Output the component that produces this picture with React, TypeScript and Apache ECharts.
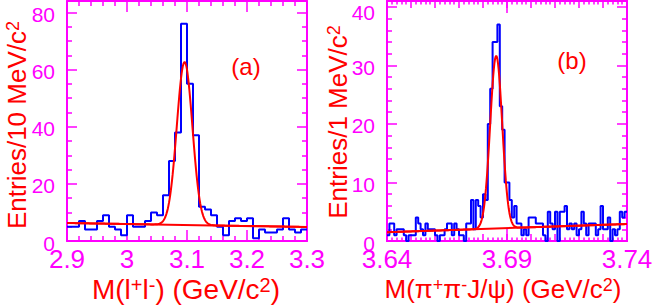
import React, { useEffect, useRef } from 'react';
import * as echarts from 'echarts';

// ---- data ----
const leftLow = 2.9;
const leftBinWidth = 0.01;
const leftCounts = [
  5, 5, 7, 4, 4, 7, 9, 5, 4, 2,
  9, 5, 5, 7, 10, 9, 16, 28, 38, 76,
  55, 37, 12, 11, 9, 5, 2, 7, 8, 7,
  8, 1, 4, 3, 3, 4, 8, 4, 3, 4,
];
const rightLow = 3.64;
const rightBinWidth = 0.001;
const rightCounts = [
  1, 3, 3, 1, 2, 2, 2, 1, 0, 1,
  1, 1, 4, 3, 2, 1, 3, 2, 2, 2,
  1, 0, 1, 1, 2, 3, 3, 1, 3, 2,
  1, 1, 0, 3, 3, 7, 2, 7, 6, 4,
  8, 7, 20, 26, 34, 34, 37, 23, 19, 10,
  10, 7, 4, 6, 3, 3, 1, 2, 1, 4,
  4, 4, 3, 3, 3, 1, 0, 5, 3, 2,
  5, 0, 5, 5, 6, 2, 3, 2, 3, 1,
  2, 5, 3, 1, 3, 3, 3, 1, 2, 6,
  2, 2, 4, 0, 2, 1, 2, 5, 4, 5,
];
// fit parameters (Gaussian + linear background)
const leftFitMean = 3.096;
const leftFitSigma = 0.013;
const leftFitAmp = 57;
const leftBgStart = 6.3;
const leftBgEnd = 4.9;
const rightFitMean = 3.6855;
const rightFitSigma = 0.0025;
const rightFitAmp = 29.5;
const rightBgStart = 1.5;
const rightBgEnd = 2.9;

const leftXRange = [2.9, 3.3];
const rightXRange = [3.64, 3.74];
const leftYMax = 84;
const rightYMax = 41;

const FONT = '"Liberation Sans", Arial, Helvetica, sans-serif';
const MAG = '#ff00ff';
const RED = '#ff0000';
const BLUE = '#0000ff';

function histPoints(low: number, w: number, counts: number[]) {
  const pts: number[][] = counts.map((c, k) => [+(low + k * w).toFixed(5), c]);
  pts.push([+(low + counts.length * w).toFixed(5), counts[counts.length - 1]]);
  return pts;
}
function bgLine(range: number[], b0: number, b1: number) {
  return [[range[0], b0], [range[1], b1]];
}
function fitCurve(range: number[], mean: number, sigma: number, amp: number, b0: number, b1: number) {
  const pts: number[][] = [];
  const n = 400;
  for (let i = 0; i <= n; i++) {
    const x = range[0] + ((range[1] - range[0]) * i) / n;
    const bg = b0 + ((b1 - b0) * (x - range[0])) / (range[1] - range[0]);
    const g = amp * Math.exp(-0.5 * ((x - mean) / sigma) ** 2);
    pts.push([x, bg + g]);
  }
  return pts;
}

function xAxis(gridIndex: number, position: string, range: number[], interval: number, o: any) {
  return {
    type: 'value',
    gridIndex,
    position,
    min: range[0],
    max: range[1],
    interval,
    axisLine: { show: true, onZero: false, lineStyle: { color: MAG, width: 2 } },
    axisTick: { show: true, inside: true, length: o.tick, lineStyle: { color: MAG, width: 1.5 } },
    minorTick: o.minor
      ? { show: true, splitNumber: o.minor, length: o.minorLen, lineStyle: { color: MAG, width: 1.5 } }
      : { show: false },
    axisLabel: o.labels
      ? {
          show: true,
          color: MAG,
          fontSize: 26,
          fontFamily: FONT,
          margin: 5,
          showMaxLabel: true,
          hideOverlap: false,
          formatter: (v: number) => String(+v.toFixed(2)),
        }
      : { show: false },
    splitLine: { show: false },
    minorSplitLine: { show: false },
  };
}
function yAxis(gridIndex: number, position: string, max: number, interval: number, minor: number, labels: boolean, topTick: number) {
  return {
    type: 'value',
    gridIndex,
    position,
    min: 0,
    max,
    interval,
    axisLine: { show: true, onZero: false, lineStyle: { color: MAG, width: 2 } },
    axisTick: { show: true, inside: true, length: 10, lineStyle: { color: MAG, width: 1.5 } },
    minorTick: { show: true, splitNumber: minor, length: 5, lineStyle: { color: MAG, width: 1.5 } },
    axisLabel: labels
      ? {
          show: true,
          color: MAG,
          fontSize: 21,
          fontFamily: FONT,
          margin: 12,
          showMaxLabel: false,
          hideOverlap: false,
          formatter: (v: number) => (v === topTick ? `{t|${v}}` : `{n|${v}}`),
          rich: {
            n: { color: MAG, fontSize: 21, fontFamily: FONT, padding: [4, 0, 0, 0] },
            t: { color: MAG, fontSize: 21, fontFamily: FONT, padding: topTick === 40 ? [12, 0, 0, 0] : [4, 0, 0, 0] },
          },
        }
      : { show: false },
    splitLine: { show: false },
    minorSplitLine: { show: false },
  };
}

function richText(text: string, size: number) {
  return {
    text,
    fill: RED,
    font: `${size}px ${FONT}`,
    rich: {
      a: { fill: RED, fontSize: size, fontFamily: FONT },
      s: { fill: RED, fontSize: Math.round(size * 0.7), fontFamily: FONT, verticalAlign: 'top' },
    },
    align: 'center',
    verticalAlign: 'middle',
    textAlign: 'center',
    textVerticalAlign: 'middle',
  };
}

const gridBase = { top: 1, width: 240, height: 240, containLabel: false, outerBoundsMode: 'none' };

export default function App() {
  const ref = useRef<HTMLDivElement>(null);
  useEffect(() => {
    document.body.style.margin = '0';
    const chart = echarts.init(ref.current!, null, { renderer: 'svg' });
    const option: any = {
      animation: false,
      backgroundColor: '#ffffff',
      grid: [
        { ...gridBase, left: 67 },
        { ...gridBase, left: 387 },
        { ...gridBase, left: 387 },
      ],
      xAxis: [
        xAxis(0, 'bottom', leftXRange, 0.1, { tick: 11, minor: 5, minorLen: 5, labels: true }),
        xAxis(0, 'top', leftXRange, 0.1, { tick: 11, minor: 5, minorLen: 5, labels: false }),
        xAxis(1, 'bottom', rightXRange, 0.05, { tick: 12, minor: 0, labels: true }),
        xAxis(1, 'top', rightXRange, 0.05, { tick: 12, minor: 0, labels: false }),
        xAxis(2, 'bottom', rightXRange, 0.01, { tick: 7, minor: 5, minorLen: 3.5, labels: false }),
        xAxis(2, 'top', rightXRange, 0.01, { tick: 7, minor: 5, minorLen: 3.5, labels: false }),
      ],
      yAxis: [
        yAxis(0, 'left', leftYMax, 20, 4, true, 80),
        yAxis(0, 'right', leftYMax, 20, 4, false, 80),
        yAxis(1, 'left', rightYMax, 10, 5, true, 40),
        yAxis(1, 'right', rightYMax, 10, 5, false, 40),
        { type: 'value', gridIndex: 2, min: 0, max: rightYMax, show: false },
      ],
      series: [
        {
          type: 'line', xAxisIndex: 0, yAxisIndex: 0, step: 'end', showSymbol: false,
          data: histPoints(leftLow, leftBinWidth, leftCounts),
          lineStyle: { color: BLUE, width: 2 }, z: 3,
        },
        {
          type: 'line', xAxisIndex: 0, yAxisIndex: 0, showSymbol: false,
          data: bgLine(leftXRange, leftBgStart, leftBgEnd),
          lineStyle: { color: RED, width: 2 }, z: 4,
        },
        {
          type: 'line', xAxisIndex: 0, yAxisIndex: 0, showSymbol: false,
          data: fitCurve(leftXRange, leftFitMean, leftFitSigma, leftFitAmp, leftBgStart, leftBgEnd),
          lineStyle: { color: RED, width: 2 }, z: 5,
        },
        {
          type: 'line', xAxisIndex: 2, yAxisIndex: 2, step: 'end', showSymbol: false,
          data: histPoints(rightLow, rightBinWidth, rightCounts),
          lineStyle: { color: BLUE, width: 2 }, z: 3,
        },
        {
          type: 'line', xAxisIndex: 2, yAxisIndex: 2, showSymbol: false,
          data: bgLine(rightXRange, rightBgStart, rightBgEnd),
          lineStyle: { color: RED, width: 2 }, z: 4,
        },
        {
          type: 'line', xAxisIndex: 2, yAxisIndex: 2, showSymbol: false,
          data: fitCurve(rightXRange, rightFitMean, rightFitSigma, rightFitAmp, rightBgStart, rightBgEnd),
          lineStyle: { color: RED, width: 2 }, z: 5,
        },
      ],
      graphic: [
        { type: 'text', x: 246, y: 66, style: richText('{a|(a)}', 24) },
        { type: 'text', x: 572, y: 60, style: richText('{a|(b)}', 24) },
        { type: 'text', x: 17, y: 125, rotation: Math.PI / 2, style: richText('{a|Entries/10 MeV/c}{s|2}', 26) },
        { type: 'text', x: 338, y: 122, rotation: Math.PI / 2, style: richText('{a|Entries/1 MeV/c}{s|2}', 26) },
        { type: 'text', x: 186, y: 289, style: richText('{a|M(l}{s|+}{a|l}{s|-}{a|) (GeV/c}{s|2}{a|)}', 28) },
        { type: 'text', x: 503, y: 289, style: richText('{a|M(π}{s|+}{a|π}{s|-}{a|J/ψ) (GeV/c}{s|2}{a|)}', 26) },
      ],
    };
    chart.setOption(option);
    return () => chart.dispose();
  }, []);
  return <div ref={ref} style={{ width: 654, height: 307, position: 'absolute', left: 0, top: 0 }} />;
}
